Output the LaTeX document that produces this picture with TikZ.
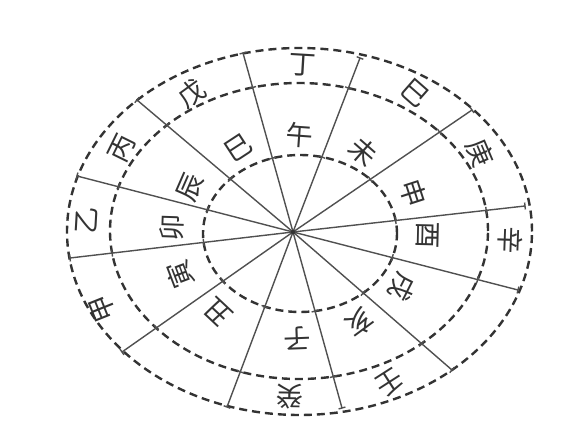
\documentclass[tikz,border=0pt]{standalone}
\usepackage{fontspec}
\newfontfamily\cjk{Noto Sans CJK SC}
\usetikzlibrary{intersections,calc}
\definecolor{ink}{HTML}{333333}
\definecolor{spokec}{HTML}{505050}
\definecolor{txt}{HTML}{333333}
\begin{document}
\begin{tikzpicture}[x=1pt,y=-1pt,
  ring/.style={draw=ink, line width=2.4pt, dash pattern=on 8pt off 5pt},
  spk/.style={draw=spokec, line width=1.4pt},
  tickmark/.style={draw=spokec, line width=1.4pt},
  gz/.style={font=\cjk\fontsize{27}{27}\selectfont, text=txt, inner sep=0pt}]
\useasboundingbox (0,0) rectangle (566,430);
\fill[white] (0,0) rectangle (566,430);
\coordinate (H) at (293,232);
\path[ring, name path global=outer] (299.5,231.5) ellipse [x radius=232.5pt, y radius=183.5pt];
\path[ring, name path global=middle] (299,231) ellipse [x radius=189pt, y radius=148pt];
\path[ring, name path global=inner] (300,233.5) ellipse [x radius=97pt, y radius=78.5pt];
\foreach \n/\x/\y in {1/243/53, 2/360/58, 3/472/110, 4/525/206, 5/518/290, 6/452/370,
                       7/342/408, 8/227/407, 9/122/352, 10/70/258, 11/77/176, 12/137/100} {
  \coordinate (e\n) at (\x,\y);
  \path[spk, name path=sp] (H) -- (e\n);
  \draw[tickmark] ($(e\n)!3.5pt!90:(H)$) -- ($(e\n)!3.5pt!-90:(H)$);
  \path[name intersections={of=sp and middle, name=m}];
  \draw[tickmark] ($(m-1)!3.5pt!90:(H)$) -- ($(m-1)!3.5pt!-90:(H)$);
  \path[name intersections={of=sp and inner, name=k}];
  \draw[tickmark] ($(k-1)!3.5pt!90:(H)$) -- ($(k-1)!3.5pt!-90:(H)$);
}
\fill[ink] (H) circle (2.2pt);
% outer ring labels
\node[gz, rotate=-3.4]   (o1)  at (303,65)  {丁};
\node[gz, rotate=-41.3]  (o2)  at (415,93)  {巳};
\node[gz, rotate=-67.1]  (o3)  at (480,153) {庚};
\node[gz, rotate=-92.1]  (o4)  at (510,240) {辛};
\node[gz, rotate=-147.3] (o5)  at (390,383) {壬};
\node[gz, rotate=179]    (o6)  at (290,397) {癸};
\node[gz, rotate=111.8]  (o7)  at (103,308) {甲};
\node[gz, rotate=86.7]   (o8)  at (87,220)  {乙};
\node[gz, rotate=63.8]   (o9)  at (122,148) {丙};
\node[gz, rotate=36.0]   (o10) at (192,93)  {戊};
% middle ring labels
\node[gz, rotate=-4.1]   (m1)  at (300,135) {午};
\node[gz, rotate=-41.2]  (m2)  at (363,152) {未};
\node[gz, rotate=-72]    (m3)  at (413,193) {申};
\node[gz, rotate=-91.3]  (m4)  at (428,235) {酉};
\node[gz, rotate=-116.8] (m5)  at (402,287) {戌};
\node[gz, rotate=-143.6] (m6)  at (360,323) {亥};
\node[gz, rotate=-177.8] (m7)  at (297,338) {子};
\node[gz, rotate=136.8]  (m8)  at (218,312) {丑};
\node[gz, rotate=110.8]  (m9)  at (180,275) {寅};
\node[gz, rotate=88.1]   (m10) at (172,228) {卯};
\node[gz, rotate=66.4]   (m11) at (190,187) {辰};
\node[gz, rotate=33.2]   (m12) at (238,148) {巳};
\end{tikzpicture}
\end{document}
